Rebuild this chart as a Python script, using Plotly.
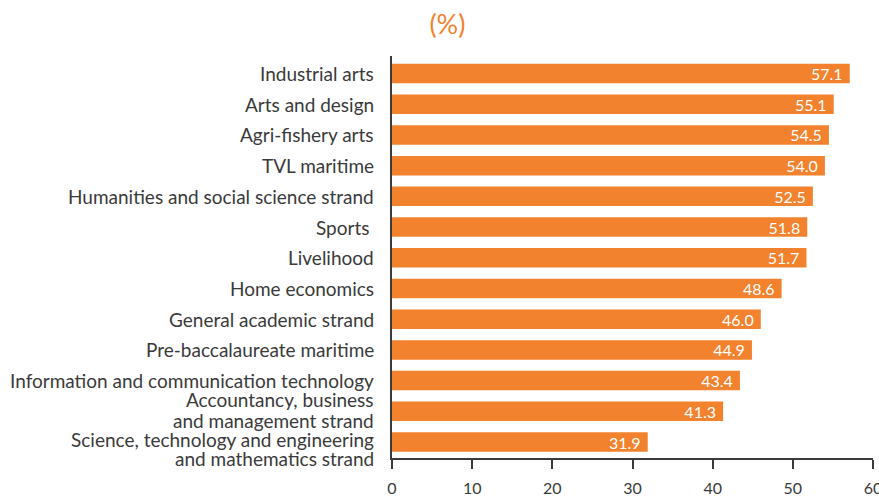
import plotly.graph_objects as go

# Share (%) by senior high school strand / track
strands = [
    "Industrial arts",
    "Arts and design",
    "Agri-fishery arts",
    "TVL maritime",
    "Humanities and social science strand",
    "Sports ",
    "Livelihood",
    "Home economics",
    "General academic strand",
    "Pre-baccalaureate maritime",
    "Information and communication technology",
    "Accountancy, business and management strand",
    "Science, technology and engineering and mathematics strand",
]
# How the long category names wrap onto two lines
label_lines = {
    "Accountancy, business and management strand": ["Accountancy, business", "and management strand"],
    "Science, technology and engineering and mathematics strand": [
        "Science, technology and engineering",
        "and mathematics strand",
    ],
}
shares = [57.1, 55.1, 54.5, 54.0, 52.5, 51.8, 51.7, 48.6, 46.0, 44.9, 43.4, 41.3, 31.9]
x_ticks = [0, 10, 20, 30, 40, 50, 60]

ORANGE = "#F2822E"
TEXT = "#3a3a3a"
FONT = "Lato"
LABEL_SIZE = 19

fig = go.Figure(
    go.Bar(
        x=shares,
        y=strands,
        orientation="h",
        marker=dict(color=ORANGE, line=dict(width=0)),
        texttemplate="%{x:.1f}\u00a0",
        textposition="inside",
        insidetextanchor="end",
        constraintext="none",
        textfont=dict(color="white", size=16, family=FONT),
        hoverinfo="skip",
    )
)

# Category labels, right-aligned against the axis; wrapped names use tight line spacing
line_shifts = {
    "Accountancy, business and management strand": [12, -9],
    "Science, technology and engineering and mathematics strand": [3, -16],
}
for name in strands:
    lines = label_lines.get(name, [name])
    shifts = line_shifts.get(name, [0])
    for line, dy in zip(lines, shifts):
        fig.add_annotation(
            x=0,
            xref="paper",
            y=name,
            yref="y",
            text=line,
            showarrow=False,
            xanchor="right",
            yanchor="middle",
            xshift=-16,
            yshift=dy,
            font=dict(family=FONT, size=LABEL_SIZE, color=TEXT),
        )

fig.update_layout(
    width=879,
    height=498,
    margin=dict(l=392, r=6, t=56, b=40, autoexpand=False),
    paper_bgcolor="white",
    plot_bgcolor="white",
    bargap=0.365,
    showlegend=False,
    font=dict(family=FONT, color=TEXT, size=17),
    title=dict(
        text="(%)",
        x=0.509,
        xref="container",
        xanchor="center",
        y=1 - 25 / 498,
        yref="container",
        yanchor="middle",
        font=dict(family=FONT, size=27, color=ORANGE),
    ),
)

fig.update_xaxes(
    range=[0, 60],
    tickvals=x_ticks,
    ticktext=[str(v) for v in x_ticks],
    showgrid=False,
    zeroline=False,
    showline=True,
    linecolor=TEXT,
    linewidth=2,
    ticks="outside",
    ticklen=9,
    tickwidth=2,
    tickcolor=TEXT,
    tickfont=dict(size=16, color=TEXT, family=FONT),
    ticklabelstandoff=6,
    ticklabeloverflow="allow",
    automargin=False,
    fixedrange=True,
)

fig.update_yaxes(
    categoryorder="array",
    categoryarray=strands,
    range=[len(strands) - 0.48, -0.57],
    showgrid=False,
    zeroline=False,
    showline=True,
    linecolor=TEXT,
    linewidth=2,
    ticks="",
    showticklabels=False,
    automargin=False,
    fixedrange=True,
)

fig.write_html("out.html")
